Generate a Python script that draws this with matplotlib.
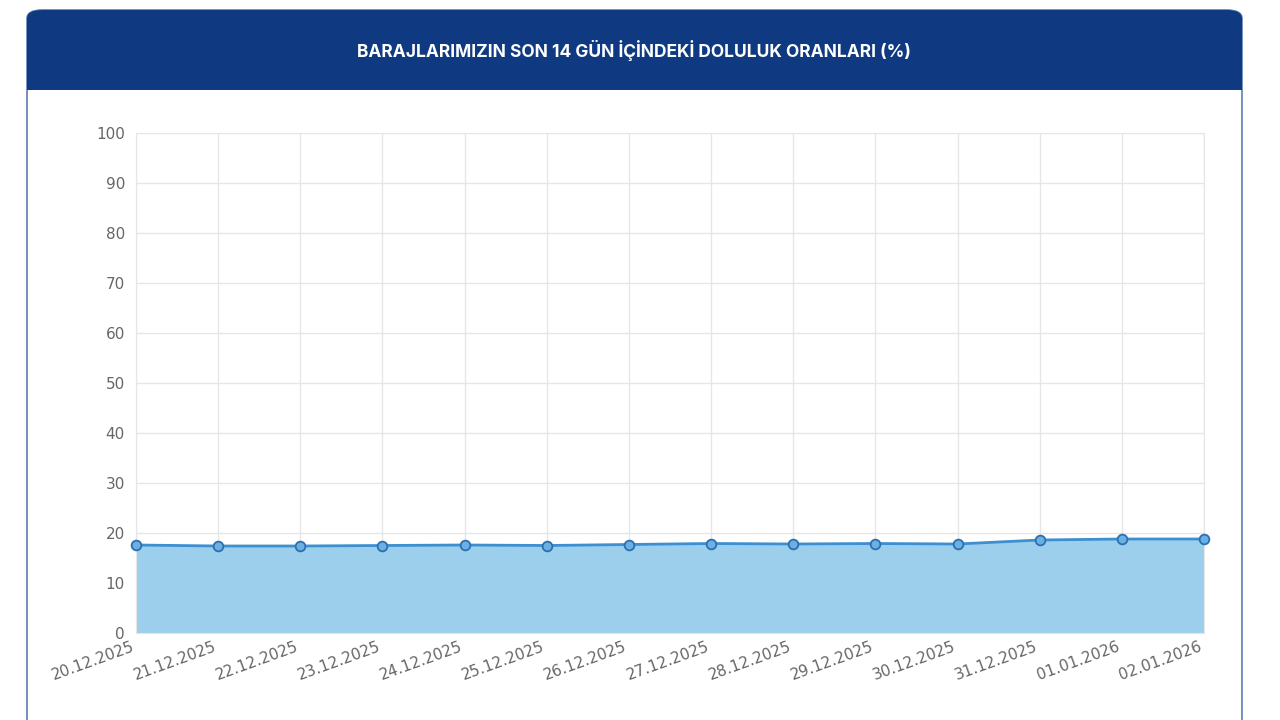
import matplotlib.pyplot as plt
from matplotlib.patches import FancyBboxPatch, Rectangle
import numpy as np

dates = ["20.12.2025", "21.12.2025", "22.12.2025", "23.12.2025", "24.12.2025",
         "25.12.2025", "26.12.2025", "27.12.2025", "28.12.2025", "29.12.2025",
         "30.12.2025", "31.12.2025", "01.01.2026", "02.01.2026"]
fill_rate = [17.6, 17.4, 17.4, 17.5, 17.6, 17.5, 17.7, 17.9, 17.8, 17.9,
             17.8, 18.6, 18.8, 18.8]
title = "BARAJLARIMIZIN SON 14 GÜN İÇİNDEKİ DOLULUK ORANLARI (%)"

W, H = 1280, 720
fig = plt.figure(figsize=(12.8, 7.2), dpi=100)

# card background with border and dark header (kept behind the axes)
card = FancyBboxPatch((27 / W, -0.05), 1215 / W, (720 - 10) / H + 0.05,
                      boxstyle="round,pad=0,rounding_size=0.012",
                      transform=fig.transFigure, facecolor="white",
                      edgecolor="#5b7fb0", linewidth=1.2, zorder=-3)
header = FancyBboxPatch((27 / W, (720 - 90) / H), 1215 / W, 80 / H,
                        boxstyle="round,pad=0,rounding_size=0.012",
                        transform=fig.transFigure, facecolor="#0f3a82",
                        edgecolor="none", zorder=-2)
header_base = Rectangle((27 / W, (720 - 90) / H), 1215 / W, 20 / H,
                        transform=fig.transFigure, facecolor="#0f3a82",
                        edgecolor="none", zorder=-2)
fig.patches.extend([card, header, header_base])
fig.text(634 / W, (720 - 50) / H, title, ha="center", va="center",
         color="white", fontsize=12.5, fontweight="bold", family="Inter")

ax = fig.add_axes([136 / W, (720 - 633) / H, (1204 - 136) / W, 500 / H])
ax.set_zorder(5)
x = np.arange(len(dates))
ax.fill_between(x, fill_rate, 0, color="#9ccfec", zorder=2)
ax.plot(x, fill_rate, color="#3d8fd0", linewidth=2, zorder=3)
ax.plot(x, fill_rate, "o", markersize=7, markerfacecolor="#6ab0e4",
        markeredgecolor="#2d6fb0", markeredgewidth=1.3, zorder=4, clip_on=False)

ax.set_xlim(0, len(dates) - 1)
ax.set_ylim(0, 100)
ax.set_yticks(range(0, 101, 10))
ax.set_xticks(x)
ax.set_xticklabels(dates, rotation=20, ha="right", fontsize=11, color="#666666")
ax.tick_params(axis="y", labelsize=11, labelcolor="#666666", length=0, pad=8)
ax.tick_params(axis="x", length=0, pad=4)
ax.grid(True, color="#e6e6e6", linewidth=1, zorder=0)
ax.set_axisbelow(True)
for s in ax.spines.values():
    s.set_color("#e6e6e6")
ax.set_facecolor("white")

fig.savefig("out.png", dpi=100)
